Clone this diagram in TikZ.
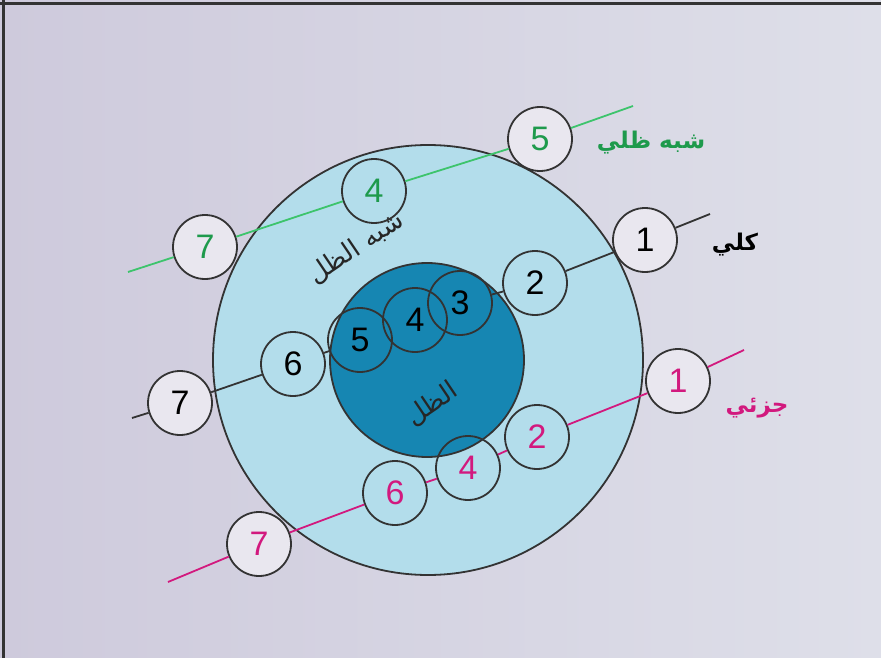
\documentclass[tikz,border=0pt]{standalone}
\usepackage{fontspec}
\setmainfont{Liberation Sans}
\newfontfamily\arabicfont[Script=Arabic]{DejaVu Sans}
\TeXXeTstate=1
\definecolor{bgL}{HTML}{CECADC}
\definecolor{bgR}{HTML}{DEDFE9}
\definecolor{penumbra}{HTML}{B3DDEB}
\definecolor{umbra}{HTML}{1686B2}
\definecolor{disc}{HTML}{E9E7EF}
\definecolor{edge}{HTML}{333333}
\definecolor{grtxt}{HTML}{1E9A4C}
\definecolor{grline}{HTML}{3DC46C}
\definecolor{mag}{HTML}{D2197E}
\tikzset{
  moon/.style={circle, draw=edge, line width=1.8pt, minimum size=64pt, inner sep=0pt,
    font=\fontsize{34}{34}\selectfont},
  outmoon/.style={moon, fill=disc},
  lbl/.style={font=\arabicfont\bfseries\fontsize{23}{25}\selectfont},
  shlbl/.style={font=\arabicfont\fontsize{26}{28}\selectfont, rotate=34, text=black!85},
  path/.style={line width=1.8pt}
}
\begin{document}
\begin{tikzpicture}[x=1pt,y=-1pt]
\shade[left color=bgL, right color=bgR] (0,0) rectangle (881,658);
\useasboundingbox (0,0) rectangle (881,658);
\draw[edge, line width=3pt] (0,4) -- (881,4);
\draw[edge, line width=3pt] (3,0) -- (3,658);
% shadows
\node[circle, fill=penumbra, draw=edge, line width=1.8pt, minimum size=430pt, inner sep=0pt] (outer) at (428,360) {};
\node[circle, fill=umbra, draw=edge, line width=1.8pt, minimum size=194pt, inner sep=0pt] (inner) at (427,360) {};
% labels on shadows
\node[shlbl] (lp) at (356,248) {\beginR شبه الظل\endR};
\node[shlbl] (lu) at (432,404) {\beginR الظل\endR};
% black (total)
\node[outmoon] (k1) at (645,240) {1};
\node[moon] (k2) at (535,283) {2};
\node[moon] (k3) at (460,303) {3};
\node[moon] (k4) at (415,320) {4};
\node[moon] (k5) at (360,340) {5};
\node[moon] (k6) at (293,364) {6};
\node[outmoon] (k7) at (180,403) {7};
\coordinate (kR) at (710,214);
\coordinate (kL) at (132,418);
\draw[path, edge] (kR) -- (k1) (k1) -- (k2) (k2) -- (k3) (k5) -- (k6) (k6) -- (k7) (k7) -- (kL);
% green (penumbral)
\node[outmoon, text=grtxt] (g5) at (540,139) {5};
\node[moon, text=grtxt] (g4) at (374,191) {4};
\node[outmoon, text=grtxt] (g7) at (205,247) {7};
\coordinate (gR) at (633,106);
\coordinate (gL) at (128,272);
\draw[path, grline] (gR) -- (g5) (g5) -- (g4) (g4) -- (g7) (g7) -- (gL);
% magenta (partial)
\node[outmoon, text=mag] (m1) at (678,381) {1};
\node[moon, text=mag] (m2) at (537,437) {2};
\node[moon, text=mag] (m4) at (468,468) {4};
\node[moon, text=mag] (m6) at (395,493) {6};
\node[outmoon, text=mag] (m7) at (259,544) {7};
\coordinate (mR) at (744,350);
\coordinate (mL) at (168,582);
\draw[path, mag] (mR) -- (m1) (m1) -- (m2) (m2) -- (m4) (m4) -- (m6) (m6) -- (m7) (m7) -- (mL);
% legend labels
\node[lbl, text=grtxt] (tg) at (651,143) {\beginR شبه ظلي\endR};
\node[lbl, text=black] (tk) at (735,245) {\beginR كلي\endR};
\node[lbl, text=mag] (tm) at (757,408) {\beginR جزئي\endR};
\end{tikzpicture}
\end{document}
